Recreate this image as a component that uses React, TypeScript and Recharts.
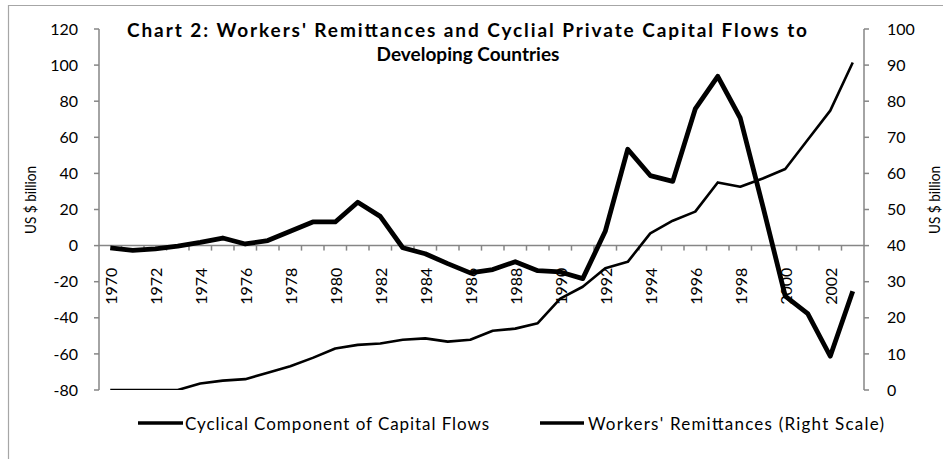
import React from 'react';
import { LineChart, Line, XAxis, YAxis, ReferenceLine } from 'recharts';

// ---------- data ----------
const years = [
  '1970', '1971', '1972', '1973', '1974', '1975', '1976', '1977', '1978', '1979',
  '1980', '1981', '1982', '1983', '1984', '1985', '1986', '1987', '1988', '1989',
  '1990', '1991', '1992', '1993', '1994', '1995', '1996', '1997', '1998', '1999',
  '2000', '2001', '2002', '2003',
];

// Cyclical Component of Capital Flows (left scale, US$ billion)
const cyclicalFlows = [
  -1.3, -2.6, -1.8, -0.3, 1.8, 4.2, 0.9, 2.8, 7.9, 13.1,
  13.1, 24.0, 16.2, -1.2, -4.5, -10.0, -15.1, -13.3, -8.9, -13.9,
  -14.6, -18.3, 7.9, 53.4, 38.8, 35.6, 75.7, 93.8, 70.7, 22.0,
  -28.0, -37.7, -61.3, -25.3,
];

// Workers' Remittances (right scale, US$ billion)
const remittances = [
  0, 0, 0, 0, 1.8, 2.6, 3.0, 4.8, 6.6, 8.9,
  11.5, 12.5, 12.9, 13.9, 14.3, 13.4, 13.9, 16.4, 17.0, 18.5,
  25.3, 28.6, 33.7, 35.5, 43.4, 46.9, 49.4, 57.5, 56.3, 58.6,
  61.2, 69.3, 77.4, 90.7,
];

const leftTicks = [-80, -60, -40, -20, 0, 20, 40, 60, 80, 100, 120];
const rightTicks = [0, 10, 20, 30, 40, 50, 60, 70, 80, 90, 100];

const titleLine1 = "Chart 2: Workers' Remittances and Cyclial Private Capital Flows to";
const titleLine2 = 'Developing Countries';
const legendLabels = ['Cyclical Component of Capital Flows', "Workers' Remittances (Right Scale)"];
const axisTitle = 'US $ billion';

const data = years.map((year, i) => ({
  year,
  cyc: cyclicalFlows[i],
  rem: remittances[i],
}));

// ---------- layout ----------
const W = 943;
const H = 459;
const PLOT_LEFT = 99;
const PLOT_RIGHT = 864;
const PLOT_TOP = 29;
const PLOT_BOTTOM = 390;
const XAXIS_H = 30;
const LEFT_MIN = -80;
const LEFT_MAX = 120;
const BAND = (PLOT_RIGHT - PLOT_LEFT) / years.length;
const ZERO_Y = PLOT_TOP + ((PLOT_BOTTOM - PLOT_TOP) * (LEFT_MAX - 0)) / (LEFT_MAX - LEFT_MIN);

const AXIS_GRAY = '#868686';
const FONT = 'Lato, "Open Sans", sans-serif';
const MARGIN = { top: PLOT_TOP, right: 0, bottom: H - PLOT_BOTTOM - XAXIS_H, left: 0 };

const YearTick = (props: any) => {
  const { x, payload, index } = props;
  const bx = x - BAND / 2;
  return (
    <g>
      {index > 0 && (
        <line x1={bx} x2={bx} y1={ZERO_Y} y2={ZERO_Y + 5} stroke={AXIS_GRAY} strokeWidth={1.5} />
      )}
      {index % 2 === 0 && (
        <text
          transform={`translate(${x},${ZERO_Y + 22}) rotate(-90)`}
          textAnchor="end"
          dominantBaseline="central"
          fontSize={16}
          fontFamily={FONT}
          fill="#000"
        >
          {payload.value}
        </text>
      )}
    </g>
  );
};

const tickStyle = { fontSize: 16, fill: '#000', fontFamily: FONT };

export default function App() {
  return (
    <div style={{ position: 'absolute', left: 0, top: 0, width: W, height: H, fontFamily: FONT, overflow: 'hidden' }}>
      {/* bottom layer: category axis at zero + zero line */}
      <div style={{ position: 'absolute', left: 0, top: 0 }}>
        <LineChart width={W} height={H} data={data} margin={MARGIN}>
          <XAxis
            dataKey="year"
            height={XAXIS_H}
            axisLine={false}
            tickLine={false}
            interval={0}
            padding={{ left: BAND / 2, right: BAND / 2 }}
            tick={(p: any) => <YearTick {...p} />}
          />
          <YAxis
            yAxisId="left"
            width={PLOT_LEFT}
            domain={[LEFT_MIN, LEFT_MAX]}
            ticks={leftTicks}
            allowDataOverflow
            axisLine={false}
            tickLine={false}
            tick={false}
          />
          <YAxis
            yAxisId="right"
            orientation="right"
            width={W - PLOT_RIGHT}
            domain={[0, 100]}
            ticks={rightTicks}
            allowDataOverflow
            axisLine={false}
            tickLine={false}
            tick={false}
          />
          <ReferenceLine yAxisId="left" y={0} stroke={AXIS_GRAY} strokeWidth={1.5} />
        </LineChart>
      </div>
      {/* top layer: value axes and series */}
      <div style={{ position: 'absolute', left: 0, top: 0 }}>
        <LineChart width={W} height={H} data={data} margin={MARGIN}>
          <XAxis
            dataKey="year"
            height={XAXIS_H}
            axisLine={false}
            tickLine={false}
            tick={false}
            interval={0}
            padding={{ left: BAND / 2, right: BAND / 2 }}
          />
          <YAxis
            yAxisId="left"
            width={PLOT_LEFT}
            domain={[LEFT_MIN, LEFT_MAX]}
            ticks={leftTicks}
            interval={0}
            allowDataOverflow
            axisLine={{ stroke: AXIS_GRAY, strokeWidth: 1.5 }}
            tickLine={{ stroke: AXIS_GRAY, strokeWidth: 1.5 }}
            tickSize={5}
            tickMargin={16}
            tick={tickStyle}
          />
          <YAxis
            yAxisId="right"
            orientation="right"
            width={W - PLOT_RIGHT}
            domain={[0, 100]}
            ticks={rightTicks}
            interval={0}
            allowDataOverflow
            axisLine={{ stroke: AXIS_GRAY, strokeWidth: 1.5 }}
            tickLine={{ stroke: AXIS_GRAY, strokeWidth: 1.5 }}
            tickSize={5}
            tickMargin={18}
            tick={tickStyle}
          />
          <Line
            yAxisId="right"
            dataKey="rem"
            stroke="#000"
            strokeWidth={2.6}
            dot={false}
            strokeLinejoin="round"
            isAnimationActive={false}
          />
          <Line
            yAxisId="left"
            dataKey="cyc"
            stroke="#000"
            strokeWidth={4.8}
            dot={false}
            strokeLinejoin="round"
            isAnimationActive={false}
          />
        </LineChart>
      </div>
      <svg
        width={W}
        height={H}
        style={{ position: 'absolute', left: 0, top: 0, pointerEvents: 'none' }}
      >
        <line x1={8.5} y1={5} x2={8.5} y2={H} stroke="#a6a6a6" strokeWidth={1.2} />
        <line x1={8} y1={5.5} x2={W} y2={5.5} stroke="#a6a6a6" strokeWidth={1.2} />
        <text
          x={467}
          y={37}
          textAnchor="middle"
          fontSize={19}
          fontWeight="bold"
          fontFamily={FONT}
          fill="#000"
          textLength={680}
          lengthAdjust="spacing"
        >
          {titleLine1}
        </text>
        <text x={468} y={61} textAnchor="middle" fontSize={19} fontWeight="bold" fontFamily={FONT} fill="#000">
          {titleLine2}
        </text>
        <text
          transform="translate(30,200) rotate(-90)"
          textAnchor="middle"
          dominantBaseline="central"
          fontSize={15}
          fontFamily={FONT}
          fill="#000"
          textLength={68}
          lengthAdjust="spacingAndGlyphs"
        >
          {axisTitle}
        </text>
        <text
          transform="translate(934,200) rotate(-90)"
          textAnchor="middle"
          dominantBaseline="central"
          fontSize={15}
          fontFamily={FONT}
          fill="#000"
          textLength={68}
          lengthAdjust="spacingAndGlyphs"
        >
          {axisTitle}
        </text>
        <line x1={138} y1={423} x2={183} y2={423} stroke="#000" strokeWidth={3.5} />
        <text
          x={185}
          y={423}
          dominantBaseline="central"
          fontSize={17}
          fontFamily={FONT}
          fill="#000"
          textLength={304}
          lengthAdjust="spacing"
        >
          {legendLabels[0]}
        </text>
        <line x1={540} y1={423} x2={584} y2={423} stroke="#000" strokeWidth={3.5} />
        <text
          x={588}
          y={423}
          dominantBaseline="central"
          fontSize={17}
          fontFamily={FONT}
          fill="#000"
          textLength={296}
          lengthAdjust="spacing"
        >
          {legendLabels[1]}
        </text>
      </svg>
    </div>
  );
}
